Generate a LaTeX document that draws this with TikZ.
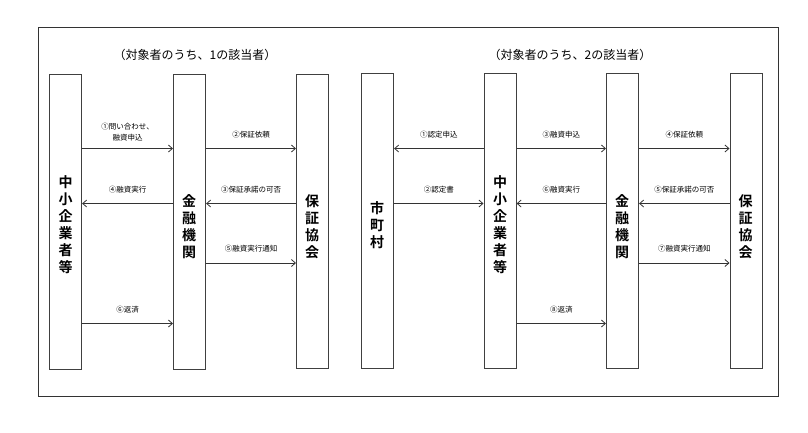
\documentclass[tikz,border=0pt]{standalone}
\usepackage{fontspec}
\setmainfont{Noto Sans CJK JP}
\newfontfamily\cjkb{Noto Sans CJK JP Bold}
\usetikzlibrary{arrows.meta}
\tikzset{
  bar/.style={draw=black!75, line width=1.1pt, minimum width=32pt, inner sep=0pt, anchor=north west},
  vtext/.style={font=\cjkb\fontsize{14}{17}\selectfont, align=center, inner sep=0pt},
  arr/.style={draw=black!80, line width=0.8pt, -{Straight Barb[length=4pt,width=7pt]}},
  lbl/.style={font=\fontsize{7.5}{11}\selectfont, align=center, inner sep=0pt},
  ttl/.style={font=\fontsize{12}{14}\selectfont, inner sep=0pt}
}
\begin{document}
\begin{tikzpicture}[x=1pt,y=-1pt]
\useasboundingbox (0,0) rectangle (808,432);
\node[draw=black!80, line width=1.2pt, minimum width=740pt, minimum height=369pt, anchor=north west, inner sep=0pt] (frame) at (38,27) {};
% titles
\node[ttl] (t1) at (195,55) {（対象者のうち、1の該当者）};
\node[ttl] (t2) at (570,55) {（対象者のうち、2の該当者）};
% left bars
\node[bar, minimum height=295pt] (a1) at (49,74) {};
\node[bar, minimum height=295pt] (a2) at (173,74) {};
\node[bar, minimum height=294pt] (a3) at (296,74) {};
\node[vtext] (a1t) at (65.5,225) {中\\小\\企\\業\\者\\等};
\node[vtext] (a2t) at (189,227) {金\\融\\機\\関};
\node[vtext] (a3t) at (312,227) {保\\証\\協\\会};
% right bars
\node[bar, minimum height=295pt] (b1) at (361,73) {};
\node[bar, minimum height=295pt] (b2) at (483.5,73) {};
\node[bar, minimum height=295pt] (b3) at (606,73) {};
\node[bar, minimum height=295pt] (b4) at (729.5,73) {};
\node[vtext] (b1t) at (377,225) {市\\町\\村};
\node[vtext] (b2t) at (500,225) {中\\小\\企\\業\\者\\等};
\node[vtext] (b3t) at (622,227) {金\\融\\機\\関};
\node[vtext] (b4t) at (745.5,227) {保\\証\\協\\会};
% row coordinates
\coordinate (r1) at (0,148.5);
\coordinate (r2) at (0,203.5);
\coordinate (r3) at (0,263);
\coordinate (r4) at (0,323.5);
% left arrows
\draw[arr] (a1.east |- r1) -- node[lbl, above=7pt] {①問い合わせ、\\融資申込} (a2.west |- r1);
\draw[arr] (a2.east |- r1) -- node[lbl, above=10pt] {②保証依頼} (a3.west |- r1);
\draw[arr] (a2.west |- r2) -- node[lbl, above=10pt] {④融資実行} (a1.east |- r2);
\draw[arr] (a3.west |- r2) -- node[lbl, above=10pt] {③保証承諾の可否} (a2.east |- r2);
\draw[arr] (a2.east |- r3) -- node[lbl, above=10pt] {⑤融資実行通知} (a3.west |- r3);
\draw[arr] (a1.east |- r4) -- node[lbl, above=10pt] {⑥返済} (a2.west |- r4);
% right arrows
\draw[arr] (b2.west |- r1) -- node[lbl, above=10pt] {①認定申込} (b1.east |- r1);
\draw[arr] (b2.east |- r1) -- node[lbl, above=10pt] {③融資申込} (b3.west |- r1);
\draw[arr] (b3.east |- r1) -- node[lbl, above=10pt] {④保証依頼} (b4.west |- r1);
\draw[arr] (b1.east |- r2) -- node[lbl, above=10pt] {②認定書} (b2.west |- r2);
\draw[arr] (b3.west |- r2) -- node[lbl, above=10pt] {⑥融資実行} (b2.east |- r2);
\draw[arr] (b4.west |- r2) -- node[lbl, above=10pt] {⑤保証承諾の可否} (b3.east |- r2);
\draw[arr] (b3.east |- r3) -- node[lbl, above=10pt] {⑦融資実行通知} (b4.west |- r3);
\draw[arr] (b2.east |- r4) -- node[lbl, above=10pt] {⑧返済} (b3.west |- r4);
\end{tikzpicture}
\end{document}
